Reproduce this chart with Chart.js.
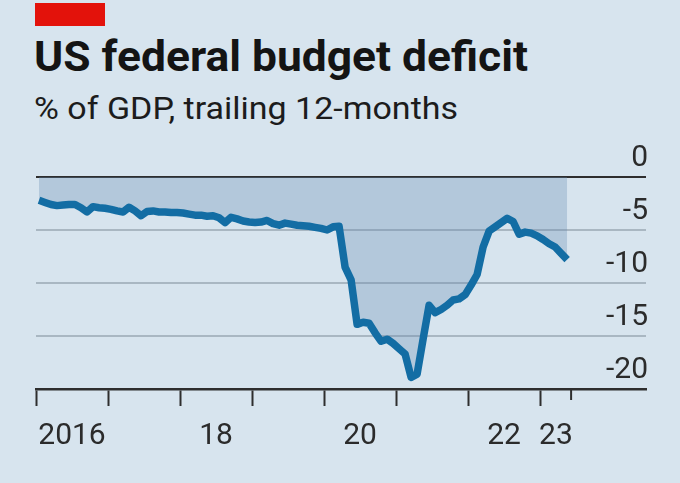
<!DOCTYPE html>
<html lang="en">
<head>
<meta charset="UTF-8">
<title>US federal budget deficit</title>
<script src="https://cdn.jsdelivr.net/npm/chart.js@4"></script>
<style>
  html, body { margin: 0; padding: 0; }
  body { width: 680px; height: 483px; background: #d7e4ee; position: relative; overflow: hidden; font-family: Roboto, sans-serif; }
  #redbar { position: absolute; left: 35px; top: 3px; width: 70px; height: 23px; background: #e3120b; }
  h1 { position: absolute; left: 34px; top: 36px; margin: 0; font-size: 42px; line-height: 42px; font-weight: 700; color: #141414; white-space: nowrap; transform-origin: 0 0; }
  #sub { position: absolute; left: 34px; top: 92px; margin: 0; font-size: 32px; line-height: 32px; font-weight: 400; color: #1c1c1c; white-space: nowrap; transform-origin: 0 0; }
  canvas { position: absolute; left: 0; top: 0; }
</style>
</head>
<body>
<div id="redbar"></div>
<h1 id="title">US federal budget deficit</h1>
<p id="sub">% of GDP, trailing 12-months</p>
<canvas id="chart" width="680" height="483"></canvas>
<script>
// monthly, Jan 2016 to May 2023, % of GDP (trailing 12 months)
const startYear = 2016;
const deficit = [
  -2.2, -2.4, -2.6, -2.7, -2.65, -2.6, -2.6, -2.9, -3.3, -2.8, -2.9, -2.95,     // 2016
  -3.05, -3.2, -3.3, -2.85, -3.2, -3.65, -3.25, -3.2, -3.3, -3.3, -3.35, -3.35, // 2017
  -3.4, -3.5, -3.6, -3.6, -3.7, -3.65, -3.85, -4.3, -3.8, -3.95, -4.15, -4.25,  // 2018
  -4.3, -4.25, -4.1, -4.4, -4.55, -4.35, -4.45, -4.55, -4.6, -4.65, -4.75, -4.85, // 2019
  -5.0, -4.7, -4.65, -8.5, -9.7, -13.9, -13.7, -13.8, -14.7, -15.5, -15.3, -15.7, // 2020
  -16.2, -16.7, -18.9, -18.6, -15.3, -12.1, -12.8, -12.5, -12.1, -11.6, -11.5, -11.1, // 2021
  -10.2, -9.2, -6.6, -5.1, -4.7, -4.3, -3.9, -4.2, -5.4, -5.2, -5.3, -5.55,     // 2022
  -5.9, -6.3, -6.6, -7.2, -7.8                                                  // 2023
];

const yearTicks = [2016, 2017, 2018, 2019, 2020, 2021, 2022, 2023];
const labelPositions = [2016.5, 2018.5, 2020.5, 2022.5, 2023.22];
const labelTexts = ['2016', '18', '20', '22', '23'];
const dataEndTick = 2023.43;
const yTicks = [0, -5, -10, -15, -20];

const lineBlue = '#136da4';
const areaFill = 'rgba(95, 135, 175, 0.3)';
const axisDark = '#2e2e2e';
const gridGray = '#a9b7c2';
const textDark = '#2b2b2b';

function fitWidth(el, target) {
  const w = el.getBoundingClientRect().width;
  el.style.transform = 'scaleX(' + (target / w) + ')';
}

const shortTick = {
  id: 'shortTick',
  afterDraw(chart) {
    const {ctx, chartArea} = chart;
    const px = chart.scales.x.getPixelForValue(dataEndTick);
    ctx.save();
    ctx.strokeStyle = axisDark;
    ctx.lineWidth = 2;
    ctx.beginPath();
    ctx.moveTo(px, chartArea.bottom);
    ctx.lineTo(px, chartArea.bottom + 11);
    ctx.stroke();
    ctx.restore();
  }
};

const points = deficit.map((v, i) => ({x: startYear + (i + 0.5) / 12, y: v}));
const tickFont = {family: 'Roboto', size: 30, lineHeight: 1};

fitWidth(document.getElementById('title'), 494);
fitWidth(document.getElementById('sub'), 424);

const ctx = document.getElementById('chart').getContext('2d');
new Chart(ctx, {
  type: 'line',
  data: {
    datasets: [{
      data: points,
      borderColor: lineBlue,
      borderWidth: 7.5,
      borderJoinStyle: 'round',
      backgroundColor: areaFill,
      fill: 'origin',
      pointRadius: 0,
      tension: 0
    }]
  },
  options: {
    responsive: false,
    animation: false,
    layout: {padding: {left: 36, right: 34, top: 177, bottom: 34}},
    plugins: {legend: {display: false}, tooltip: {enabled: false}},
    scales: {
      x: {
        type: 'linear',
        min: 2016,
        max: 2024.47,
        afterBuildTicks: s => {
          s.ticks = yearTicks.concat(labelPositions).sort((a, b) => a - b).map(v => ({value: v}));
        },
        afterFit: s => { s.height = 60; },
        border: {display: true, color: axisDark, width: 2.5},
        grid: {
          drawOnChartArea: false,
          drawTicks: true,
          tickLength: 17,
          tickWidth: 2,
          tickColor: c => yearTicks.includes(c.tick.value) ? axisDark : 'rgba(0,0,0,0)'
        },
        ticks: {
          autoSkip: false,
          maxRotation: 0,
          padding: 15,
          color: textDark,
          font: tickFont,
          callback: v => {
            const i = labelPositions.indexOf(v);
            return i >= 0 ? labelTexts[i] : '';
          }
        }
      },
      y: {
        position: 'right',
        min: -20,
        max: 0,
        afterBuildTicks: s => { s.ticks = yTicks.map(v => ({value: v})); },
        afterFit: s => { s.width = 0; },
        border: {display: false},
        grid: {
          drawTicks: false,
          lineWidth: 2,
          color: c => c.tick.value === 0 ? axisDark : (c.tick.value === -20 ? 'rgba(0,0,0,0)' : gridGray)
        },
        ticks: {
          mirror: true,
          padding: 2,
          labelOffset: -19,
          color: textDark,
          font: tickFont,
          callback: v => String(v)
        }
      }
    }
  },
  plugins: [shortTick]
});
</script>
</body>
</html>
